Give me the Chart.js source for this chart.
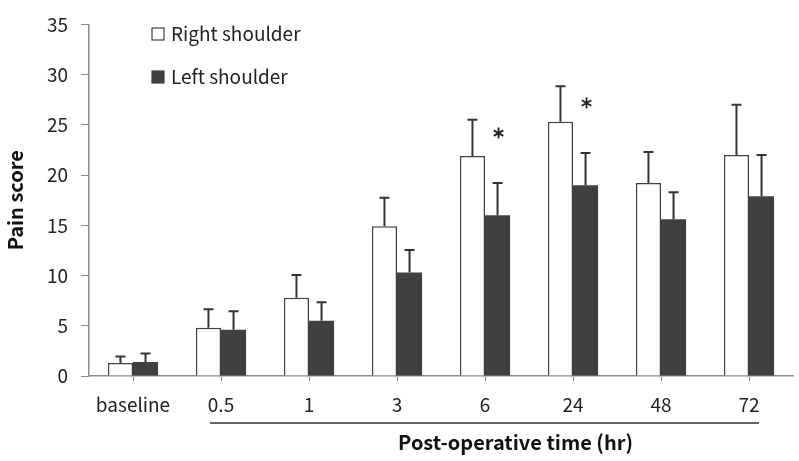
<!DOCTYPE html>
<html>
<head>
<meta charset="utf-8">
<script src="https://cdn.jsdelivr.net/npm/chart.js@4/dist/chart.umd.min.js"></script>
<style>
  html, body { margin: 0; padding: 0; background: #fff; }
  #wrap { width: 799px; height: 461px; }
</style>
</head>
<body>
<div id="wrap"><canvas id="chart"></canvas></div>
<script>
// ========================================
// DATA
// ========================================

const categories = ['baseline', '0.5', '1', '3', '6', '24', '48', '72'];
const rightShoulder = [1.3, 4.8, 7.8, 14.9, 21.9, 25.3, 19.2, 22.0];
const rightError = [0.65, 1.85, 2.25, 2.85, 3.6, 3.55, 3.1, 5.0];
const leftShoulder = [1.4, 4.6, 5.5, 10.3, 16.0, 19.0, 15.6, 17.9];
const leftError = [0.85, 1.85, 1.85, 2.25, 3.2, 3.2, 2.7, 4.1];
const significant = [4, 5]; // categories marked with *
const yTicks = [0, 5, 10, 15, 20, 25, 30, 35];

const FONT = "'Noto Sans CJK KR', 'Open Sans', sans-serif";
const DARK = '#404040';
const AXIS = '#8c8c8c';

// ========================================
// PLUGINS
// ========================================

// Error bars (upper whisker only) and significance stars
const errorBars = {
    id: 'errorBars',
    afterDatasetsDraw(chart) {
        const ctx = chart.ctx;
        const y = chart.scales.y;
        const errs = [rightError, leftError];
        ctx.save();
        ctx.strokeStyle = '#333';
        ctx.lineWidth = 2;
        chart.data.datasets.forEach((ds, i) => {
            const meta = chart.getDatasetMeta(i);
            meta.data.forEach((bar, j) => {
                const top = y.getPixelForValue(ds.data[j] + errs[i][j]);
                ctx.beginPath();
                ctx.moveTo(bar.x, bar.y);
                ctx.lineTo(bar.x, top);
                ctx.moveTo(bar.x - 5, top);
                ctx.lineTo(bar.x + 5, top);
                ctx.stroke();
            });
        });

        // six-armed stars above the left shoulder bars
        const leftMeta = chart.getDatasetMeta(1);
        ctx.strokeStyle = '#222';
        ctx.lineWidth = 1.8;
        significant.forEach(j => {
            const bar = leftMeta.data[j];
            const cx = bar.x + 1;
            const cy = y.getPixelForValue(leftShoulder[j] + leftError[j]) - 50;
            ctx.beginPath();
            [90, 30, 150].forEach(deg => {
                const a = deg * Math.PI / 180;
                const dx = Math.cos(a) * 5.5;
                const dy = Math.sin(a) * 5.5;
                ctx.moveTo(cx - dx, cy - dy);
                ctx.lineTo(cx + dx, cy + dy);
            });
            ctx.stroke();
        });
        ctx.restore();
    }
};

// Legend, axis titles and bracket line under the post-op labels
const decorations = {
    id: 'decorations',
    afterDraw(chart) {
        const ctx = chart.ctx;
        const x = chart.scales.x;
        const area = chart.chartArea;
        ctx.save();

        // legend
        ctx.font = '19px ' + FONT;
        ctx.textBaseline = 'middle';
        ctx.textAlign = 'left';
        chart.data.datasets.forEach((ds, i) => {
            const ly = 34 + i * 43;
            ctx.fillStyle = ds.backgroundColor;
            ctx.fillRect(152, ly - 6, 12, 12);
            ctx.strokeStyle = DARK;
            ctx.lineWidth = 1.2;
            ctx.strokeRect(152, ly - 6, 12, 12);
            ctx.fillStyle = '#222';
            ctx.fillText(ds.label, 171, ly);
        });

        // bracket line
        const x0 = x.getPixelForValue(1) - 11;
        const x1 = x.getPixelForValue(7) + 10;
        ctx.strokeStyle = '#333';
        ctx.lineWidth = 1.5;
        ctx.beginPath();
        ctx.moveTo(x0, 423);
        ctx.lineTo(x1, 423);
        ctx.stroke();

        // x title
        ctx.font = 'bold 20px ' + FONT;
        ctx.fillStyle = '#111';
        ctx.textAlign = 'center';
        ctx.fillText('Post-operative time (hr)', (x0 + x1) / 2 + 31, 442);

        // y title
        ctx.translate(15, (area.top + area.bottom) / 2);
        ctx.rotate(-Math.PI / 2);
        ctx.fillText('Pain score', 0, 0);
        ctx.restore();
    }
};

// ========================================
// CHART
// ========================================

new Chart(document.getElementById('chart'), {
    type: 'bar',
    data: {
        labels: categories,
        datasets: [
            {
                label: 'Right shoulder',
                data: rightShoulder,
                backgroundColor: '#ffffff',
                borderColor: DARK,
                borderWidth: 1.5,
                borderSkipped: 'bottom'
            },
            {
                label: 'Left shoulder',
                data: leftShoulder,
                backgroundColor: DARK,
                borderColor: DARK,
                borderWidth: 0
            }
        ]
    },
    options: {
        responsive: true,
        maintainAspectRatio: false,
        animation: false,
        layout: { padding: { top: 16, right: 6, left: 0, bottom: 0 } },
        datasets: { bar: { categoryPercentage: 0.57, barPercentage: 1 } },
        plugins: {
            legend: { display: false },
            tooltip: { enabled: false }
        },
        scales: {
            x: {
                afterFit(scale) { scale.height = 85; },
                grid: {
                    offset: false,
                    drawOnChartArea: false,
                    drawTicks: true,
                    tickLength: 5,
                    color: AXIS
                },
                border: { display: true, color: AXIS, width: 1.5 },
                ticks: {
                    padding: 12,
                    color: '#222',
                    font: { family: FONT, size: 19 }
                }
            },
            y: {
                min: 0,
                max: 35,
                afterFit(scale) { scale.width = 89; },
                afterBuildTicks(scale) {
                    scale.ticks = yTicks.map(v => ({ value: v }));
                },
                grid: {
                    drawOnChartArea: false,
                    drawTicks: true,
                    tickLength: 8,
                    color: AXIS
                },
                border: { display: true, color: AXIS, width: 1.5 },
                ticks: {
                    padding: 13,
                    color: '#222',
                    font: { family: FONT, size: 19 }
                }
            }
        }
    },
    plugins: [errorBars, decorations]
});
</script>
</body>
</html>
